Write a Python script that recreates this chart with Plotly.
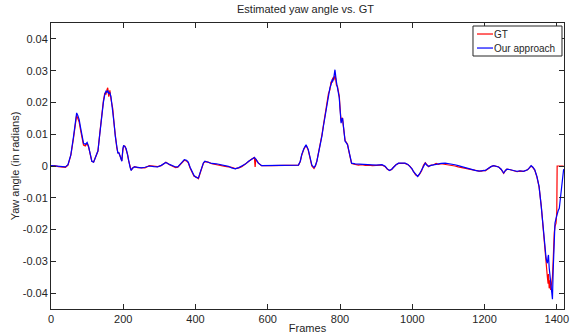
import plotly.graph_objects as go

frames = [0, 10, 20, 30, 40, 47, 55, 62, 67, 71, 74, 78, 82, 86, 90, 95, 100, 104, 108, 113,
          118, 124, 130, 135, 140, 145, 149, 152, 155, 157, 160, 163, 166, 171, 175, 178, 182, 185, 188, 191,
          194, 196, 199, 201, 205, 208, 212, 215, 219, 222, 226, 231, 240, 250, 260, 272, 285, 295, 305, 318,
          328, 337, 345, 351, 356, 362, 369, 375, 380, 385, 390, 396, 402, 408, 413, 417, 422, 426, 435, 445,
          458, 472, 482, 491, 500, 510, 520, 528, 538, 547, 556, 563, 565, 567, 574, 583, 610, 639, 660, 685,
          690, 694, 700, 706, 712, 717, 722, 728, 732, 736, 741, 745, 750, 754, 759, 763, 768, 772, 775, 778,
          780, 783, 786, 788, 790, 793, 796, 798, 800, 803, 805, 807, 810, 814, 818, 821, 823, 827, 832, 842,
          851, 860, 870, 879, 890, 900, 916, 925, 931, 937, 943, 948, 955, 962, 970, 980, 988, 994, 1000, 1003,
          1009, 1015, 1020, 1026, 1031, 1036, 1040, 1045, 1052, 1059, 1066, 1072, 1080, 1091, 1100, 1109, 1118, 1127, 1136, 1146,
          1155, 1164, 1174, 1185, 1192, 1197, 1202, 1207, 1211, 1218, 1225, 1232, 1239, 1246, 1253, 1258, 1262, 1269, 1276, 1283,
          1290, 1298, 1308, 1314, 1319, 1324, 1329, 1334, 1339, 1345, 1351, 1357, 1363, 1367, 1370, 1372, 1374, 1376, 1377, 1379,
          1381, 1383, 1385, 1388, 1390, 1391, 1393, 1395, 1398, 1400, 1401, 1404, 1407, 1410, 1413, 1416, 1419]

ours = [0.0001, 0.0000, -0.0001, -0.0003, -0.0003, 0.0004, 0.0036, 0.0090, 0.0130, 0.0167, 0.0160, 0.0146, 0.0120, 0.0090, 0.0072, 0.0068, 0.0074, 0.0062, 0.0045, 0.0015,
        0.0012, 0.0028, 0.0048, 0.0100, 0.0160, 0.0200, 0.0225, 0.0235, 0.0232, 0.0238, 0.0228, 0.0230, 0.0218, 0.0177, 0.0130, 0.0093, 0.0060, 0.0041, 0.0042, 0.0030,
        0.0022, 0.0015, 0.0055, 0.0065, 0.0060, 0.0055, 0.0035, 0.0015, -0.0005, -0.0014, -0.0006, -0.0003, -0.0004, -0.0006, -0.0004, 0.0000, -0.0002, -0.0003, 0.0002, 0.0011,
        0.0005, 0.0001, -0.0003, -0.0003, 0.0004, 0.0012, 0.0020, 0.0018, 0.0012, -0.0004, -0.0016, -0.0030, -0.0036, -0.0038, -0.0020, -0.0006, 0.0010, 0.0015, 0.0011, 0.0008,
        0.0007, 0.0004, 0.0001, -0.0001, -0.0006, -0.0009, -0.0005, -0.0001, 0.0006, 0.0015, 0.0023, 0.0027, 0.0025, 0.0022, 0.0009, 0.0001, 0.0001, 0.0001, 0.0002, 0.0003,
        0.0015, 0.0036, 0.0055, 0.0067, 0.0052, 0.0025, 0.0003, -0.0005, 0.0002, 0.0015, 0.0040, 0.0067, 0.0095, 0.0125, 0.0160, 0.0193, 0.0222, 0.0246, 0.0255, 0.0270,
        0.0268, 0.0280, 0.0303, 0.0270, 0.0265, 0.0246, 0.0230, 0.0214, 0.0180, 0.0135, 0.0145, 0.0151, 0.0120, 0.0078, 0.0072, 0.0066, 0.0056, 0.0030, 0.0009, 0.0007,
        0.0006, 0.0005, 0.0004, 0.0004, 0.0002, 0.0003, 0.0004, -0.0001, -0.0009, -0.0014, -0.0010, -0.0003, 0.0004, 0.0009, 0.0010, 0.0009, 0.0005, -0.0001, -0.0010, -0.0017,
        -0.0027, -0.0033, -0.0025, -0.0012, 0.0000, 0.0009, 0.0003, -0.0001, 0.0002, 0.0004, 0.0006, 0.0007, 0.0008, 0.0009, 0.0008, 0.0007, 0.0004, 0.0001, -0.0002, -0.0006,
        -0.0010, -0.0012, -0.0014, -0.0016, -0.0015, -0.0014, -0.0014, -0.0010, -0.0006, -0.0002, 0.0001, 0.0000, -0.0003, -0.0010, -0.0022, -0.0014, -0.0010, -0.0011, -0.0012, -0.0015,
        -0.0017, -0.0015, -0.0017, -0.0014, -0.0012, -0.0006, 0.0001, -0.0004, -0.0012, -0.0033, -0.0064, -0.0127, -0.0211, -0.0250, -0.0285, -0.0300, -0.0306, -0.0285, -0.0280, -0.0320,
        -0.0340, -0.0358, -0.0380, -0.0419, -0.0330, -0.0285, -0.0220, -0.0180, -0.0165, -0.0155, -0.0153, -0.0140, -0.0133, -0.0100, -0.0054, -0.0025, -0.0010]

gt = [0.0000, 0.0001, -0.0002, -0.0002, -0.0004, 0.0003, 0.0034, 0.0085, 0.0125, 0.0160, 0.0150, 0.0138, 0.0112, 0.0085, 0.0066, 0.0063, 0.0071, 0.0060, 0.0043, 0.0015,
      0.0013, 0.0028, 0.0047, 0.0102, 0.0165, 0.0205, 0.0230, 0.0225, 0.0240, 0.0246, 0.0218, 0.0238, 0.0210, 0.0180, 0.0128, 0.0090, 0.0058, 0.0043, 0.0040, 0.0032,
      0.0020, 0.0016, 0.0050, 0.0063, 0.0062, 0.0053, 0.0036, 0.0016, -0.0006, -0.0013, -0.0007, -0.0002, -0.0005, -0.0005, -0.0006, 0.0001, -0.0002, -0.0002, 0.0001, 0.0012,
      0.0004, 0.0000, -0.0005, -0.0004, 0.0002, 0.0010, 0.0018, 0.0016, 0.0010, -0.0006, -0.0018, -0.0032, -0.0035, -0.0040, -0.0022, -0.0005, 0.0009, 0.0014, 0.0012, 0.0007,
      0.0005, 0.0002, -0.0001, -0.0003, -0.0004, -0.0008, -0.0006, -0.0002, 0.0005, 0.0014, 0.0022, 0.0027, -0.0003, 0.0022, 0.0009, 0.0001, 0.0001, 0.0001, 0.0002, 0.0003,
      0.0014, 0.0034, 0.0053, 0.0065, 0.0050, 0.0023, 0.0000, -0.0008, 0.0000, 0.0016, 0.0042, 0.0068, 0.0098, 0.0128, 0.0165, 0.0197, 0.0228, 0.0240, 0.0265, 0.0262,
      0.0278, 0.0270, 0.0285, 0.0275, 0.0255, 0.0250, 0.0225, 0.0220, 0.0185, 0.0140, 0.0150, 0.0150, 0.0118, 0.0080, 0.0074, 0.0068, 0.0054, 0.0028, 0.0008, 0.0005,
      0.0003, 0.0004, 0.0002, 0.0003, 0.0001, 0.0002, 0.0003, -0.0002, -0.0010, -0.0014, -0.0011, -0.0004, 0.0004, 0.0008, 0.0009, 0.0008, 0.0004, -0.0001, -0.0011, -0.0018,
      -0.0028, -0.0032, -0.0026, -0.0015, 0.0002, 0.0010, 0.0004, -0.0002, 0.0003, 0.0004, 0.0008, 0.0005, 0.0007, 0.0005, 0.0004, 0.0004, 0.0000, -0.0003, -0.0005, -0.0008,
      -0.0011, -0.0013, -0.0014, -0.0016, -0.0016, -0.0014, -0.0015, -0.0010, -0.0006, -0.0002, 0.0001, 0.0000, -0.0003, -0.0011, -0.0023, -0.0014, -0.0010, -0.0011, -0.0013, -0.0016,
      -0.0018, -0.0016, -0.0017, -0.0014, -0.0012, -0.0006, 0.0000, -0.0005, -0.0013, -0.0034, -0.0066, -0.0125, -0.0215, -0.0255, -0.0300, -0.0330, -0.0350, -0.0370, -0.0340, -0.0385,
      -0.0360, -0.0390, -0.0370, -0.0350, -0.0300, -0.0260, -0.0210, -0.0190, -0.0180, -0.0145, 0.0000, 0.0000, 0.0000, 0.0000, 0.0000, 0.0000, 0.0000]

x_ticks = [0, 200, 400, 600, 800, 1000, 1200, 1400]
y_ticks = [-0.04, -0.03, -0.02, -0.01, 0, 0.01, 0.02, 0.03, 0.04]
y_tick_labels = ["-0.04", "-0.03", "-0.02", "-0.01", "0", "0.01", "0.02", "0.03", "0.04"]
series_names = ["GT", "Our approach"]
series_colors = ["rgb(255,0,0)", "rgb(0,0,255)"]

font = "Liberation Sans, Arial, sans-serif"
ink = "#262626"

fig = go.Figure()
for name, vals, col in zip(series_names, [gt, ours], series_colors):
    fig.add_trace(go.Scatter(x=frames, y=vals, mode="lines", name=name,
                             line=dict(color=col, width=1.2), showlegend=False))

axis_common = dict(showline=True, linecolor=ink, linewidth=1, mirror="ticks",
                   ticks="inside", ticklen=5, tickcolor=ink, showgrid=False,
                   zeroline=False, automargin=False,
                   tickfont=dict(family=font, size=11, color=ink))

fig.update_xaxes(range=[0, 1420], tickvals=x_ticks, ticktext=[str(v) for v in x_ticks],
                 title=dict(text="Frames", font=dict(family=font, size=11, color=ink), standoff=2),
                 **axis_common)
fig.update_yaxes(range=[-0.045, 0.045], tickvals=y_ticks, ticktext=y_tick_labels,
                 ticklabelstandoff=0,
                 title=dict(text="Yaw angle (in radians)", font=dict(family=font, size=11, color=ink), standoff=0),
                 **axis_common)

# Legend box drawn as shapes + annotations (MATLAB-style)
box_x0, box_x1, box_y0, box_y1 = 0.8226, 0.9961, 0.8846, 0.9895
fig.add_shape(type="rect", xref="paper", yref="paper", x0=box_x0, x1=box_x1, y0=box_y0, y1=box_y1,
              line=dict(color=ink, width=1), fillcolor="white", layer="above")
for i, (name, col) in enumerate(zip(series_names, series_colors)):
    yy = 0.9615 - i * 0.049
    fig.add_shape(type="line", xref="paper", yref="paper", x0=0.8304, x1=0.8616, y0=yy, y1=yy,
                  line=dict(color=col, width=1.2), layer="above")
    fig.add_annotation(xref="paper", yref="paper", x=0.8636, y=yy, text=name, showarrow=False,
                       xanchor="left", yanchor="middle", xshift=-2,
                       font=dict(family=font, size=10, color=ink))

fig.update_layout(
    width=571, height=334,
    margin=dict(l=51, r=7, t=23, b=25, autoexpand=False),
    paper_bgcolor="white", plot_bgcolor="white",
    title=dict(text="Estimated yaw angle vs. GT", x=0.535, xanchor="center", y=0.973, yanchor="middle",
               font=dict(family=font, size=11, color=ink)),
    showlegend=False,
)

fig.write_html("out.html", config={"displayModeBar": False},
               post_script="document.body.style.margin='0';document.body.style.padding='0';")
